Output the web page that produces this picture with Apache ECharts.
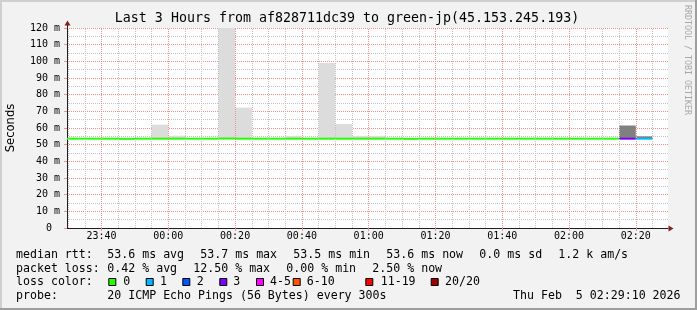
<!DOCTYPE html>
<html><head><meta charset="utf-8">
<script src="https://cdn.jsdelivr.net/npm/echarts@6/dist/echarts.min.js"></script>
<style>html,body{margin:0;padding:0;background:#f2f2f2}#c{width:697px;height:310px}</style>
</head><body><div id="c"></div>
<script>
// ---- data (time in minutes relative to 00:00, Feb 5) ----
const xRange = [-30.35, 149.65];
const xMajorTicks = [-20, 0, 20, 40, 60, 80, 100, 120, 140];
const xTickLabels = ['23:40','00:00','00:20','00:40','01:00','01:20','01:40','02:00','02:20'];
const bucketMinutes = 5;
const medianStart = [-35,-30,-25,-20,-15,-10,-5,0,5,10,15,20,25,30,35,40,45,50,55,60,65,70,75,80,85,90,95,100,105,110,115,120,125,130,135,140];
const medianRtt = [53.6,53.6,53.6,53.6,53.5,53.6,53.6,53.6,53.6,53.6,53.7,53.6,53.6,53.6,53.6,53.6,53.6,53.6,53.6,53.6,53.6,53.5,53.6,53.6,53.6,53.6,53.6,53.6,53.6,53.6,53.6,53.6,53.6,53.6,53.6,53.6];
const lossCount = [0,0,0,0,0,0,0,0,0,0,0,0,0,0,0,0,0,0,0,0,0,0,0,0,0,0,0,0,0,0,0,0,0,0,3,1];
const smokeStart = [-5, 0, 15, 20, 35, 45, 50, 55, 60, 135, 140];
const smokeLow   = [53.5, 53.5, 53.5, 53.5, 53.5, 53.5, 53.5, 53.5, 53.5, 53.5, 53.5];
const smokeHigh  = [62, 55.4, 130, 72.2, 55.3, 99, 62.4, 55.3, 55.3, 61.5, 55];
const smokeShade = ['#dcdcdc','#dcdcdc','#dcdcdc','#dcdcdc','#dcdcdc','#dcdcdc','#dcdcdc','#dcdcdc','#dcdcdc','#808080','#808080'];
const lossColors = ['#26ff00','#00b8ff','#0059ff','#7e00ff','#ff00ff','#ff5500','#ff0000','#a10000'];
const lossLabels = ['0','1','2','3','4-5','6-10','11-19','20/20'];
const titleText = 'Last 3 Hours from af828711dc39 to green-jp(45.153.245.193)';
const statRow1 = ['median rtt:', '53.6 ms avg', '53.7 ms max', '53.5 ms min', '53.6 ms now', '0.0 ms sd', '1.2 k am/s'];
const statRow2 = ['packet loss:', '0.42 % avg', '12.50 % max', '0.00 % min', '2.50 % now'];
const probeRow = ['probe:', '20 ICMP Echo Pings (56 Bytes) every 300s', 'Thu Feb  5 02:29:10 2026'];

// ---- layout ----
const MONO = "'DejaVu Sans Mono', monospace";
const row1X = [16, 107.3, 200.3, 293.3, 386.3, 479.3, 558.3];
const row2X = [16, 107.3, 193.3, 286.3, 372.3];
const probeX = [16, 107.3, 513];
const boxX = [108.3, 145.7, 182.3, 219.3, 256, 292.7, 365.3, 430.7];
const boxTextX = [123.3, 160, 196.7, 233.3, 270, 306.7, 380.7, 445];
const rowY = [254.5, 268.5, 282.3, 296.3];
const GRID_C = '#c4c4c4';
const MGRID_C = '#ee9090';

function lossBin(n){ if(n<=3) return n; if(n<=5) return 4; if(n<=10) return 5; if(n<=19) return 6; return 7; }

const graphics = [];
function txt(x, y, s, size, extra){
  graphics.push(Object.assign({type:'text', x:x, y:y, silent:true,
    style:{text:s, fontFamily:MONO, fontSize:size||11.6, fill:'#000', textAlign:'left', textVerticalAlign:'middle'}}, extra||{}));
}
// borders
graphics.push({type:'rect', shape:{x:0,y:0,width:697,height:2}, style:{fill:'#cfcfcf'}, silent:true});
graphics.push({type:'rect', shape:{x:0,y:0,width:2,height:310}, style:{fill:'#cfcfcf'}, silent:true});
graphics.push({type:'rect', shape:{x:0,y:308,width:697,height:2}, style:{fill:'#9e9e9e'}, silent:true});
graphics.push({type:'rect', shape:{x:695,y:0,width:2,height:310}, style:{fill:'#9e9e9e'}, silent:true});
// title
graphics.push({type:'text', x:347, y:18.5, silent:true, style:{text:titleText, fontFamily:MONO, fontSize:13.3, fill:'#000', textAlign:'center', textVerticalAlign:'middle'}});
// y name
graphics.push({type:'text', x:11, y:128, rotation:Math.PI/2, silent:true, style:{text:'Seconds', fontFamily:"'DejaVu Sans', sans-serif", fontSize:11.6, fill:'#000', textAlign:'center', textVerticalAlign:'middle'}});
// watermark
graphics.push({type:'text', x:687, y:60, rotation:-Math.PI/2, silent:true, style:{text:'RRDTOOL / TOBI OETIKER', fontFamily:MONO, fontSize:8.3, fill:'#a8a8a8', textAlign:'center', textVerticalAlign:'middle'}});
// arrows
graphics.push({type:'line', shape:{x1:67.5,y1:28,x2:67.5,y2:24}, style:{stroke:'#1f1f1f', lineWidth:1}, silent:true});
graphics.push({type:'polygon', shape:{points:[[64.5,25.5],[70.5,25.5],[67.5,20.5]]}, style:{fill:'#801f1f'}, silent:true, z:10});
graphics.push({type:'polygon', shape:{points:[[668.5,225.5],[668.5,231.5],[673.5,228.5]]}, style:{fill:'#801f1f'}, silent:true, z:10});
// legend rows
statRow1.forEach((s,i)=>txt(row1X[i], rowY[0], s));
statRow2.forEach((s,i)=>txt(row2X[i], rowY[1], s));
txt(16, rowY[2], 'loss color:');
lossLabels.forEach((s,i)=>{
  graphics.push({type:'rect', shape:{x:boxX[i]+0.5, y:278.5, width:7, height:7}, style:{fill:lossColors[i], stroke:'#000', lineWidth:1}, silent:true});
  txt(boxTextX[i], rowY[2], s);
});
probeRow.forEach((s,i)=>txt(probeX[i], rowY[3], s));

// vertical grid lines (markLine)
const vMinor = [], vMajor = [];
for (let m = -30; m <= 145; m += 5) {
  if (xMajorTicks.indexOf(m) >= 0) vMajor.push({xAxis:m}); else vMinor.push({xAxis:m});
}

const chart = echarts.init(document.getElementById('c'), null, {renderer:'canvas'});
chart.setOption({
  animation:false,
  backgroundColor:'#f2f2f2',
  grid:{left:67, top:28, right:29, bottom:82, show:true, backgroundColor:'#ffffff', borderWidth:0},
  graphic: graphics,
  xAxis:{
    type:'value', min:xRange[0], max:xRange[1],
    axisLine:{show:true, onZero:false, lineStyle:{color:'#1f1f1f', width:1}},
    axisTick:{show:true, customValues:xMajorTicks, length:3, lineStyle:{color:MGRID_C}},
    axisLabel:{customValues:xMajorTicks, margin:3, fontFamily:MONO, fontSize:10, color:'#000',
      formatter:(v)=>{ const i = xMajorTicks.indexOf(Math.round(v)); return i>=0 ? xTickLabels[i] : ''; }},
    splitLine:{show:false}
  },
  yAxis:{
    type:'value', min:0, max:120, interval:10,
    axisLine:{show:true, onZero:false, lineStyle:{color:'#1f1f1f', width:1}},
    axisTick:{show:true, length:3, lineStyle:{color:MGRID_C}},
    axisLabel:{margin:7, fontFamily:MONO, fontSize:10, color:'#000',
      formatter:(v)=> v===0 ? '{z|0}' : v+' m',
      rich:{z:{fontFamily:MONO, fontSize:10, color:'#000', padding:[0,8,0,0]}}},
    splitLine:{show:true, lineStyle:{color:MGRID_C, type:[1,1], width:1}},
    minorTick:{show:false, splitNumber:2},
    minorSplitLine:{show:true, lineStyle:{color:GRID_C, type:[1,1], width:1}}
  },
  series:[
    {type:'line', data:[], z:1, silent:true,
      markLine:{silent:true, symbol:'none', label:{show:false}, animation:false,
        lineStyle:{color:GRID_C, type:[1,1], width:1}, data:vMinor}},
    {type:'line', data:[], z:1, silent:true,
      markLine:{silent:true, symbol:'none', label:{show:false}, animation:false,
        lineStyle:{color:MGRID_C, type:[1,1], width:1}, data:vMajor}},
    {type:'custom', z:2, silent:true, clip:true,
      data: smokeStart.map((s,i)=>[s, smokeLow[i], smokeHigh[i], i]),
      encode:{x:0, y:[1,2]},
      renderItem:(params, api)=>{
        const i = api.value(3);
        const a = api.coord([api.value(0), api.value(1)]);
        const b = api.coord([api.value(0)+bucketMinutes, api.value(2)]);
        const cs = params.coordSys;
        const r = echarts.graphic.clipRectByRect({x:a[0], y:b[1], width:b[0]-a[0], height:a[1]-b[1]}, {x:cs.x, y:cs.y, width:cs.width, height:cs.height});
        return r ? {type:'rect', shape:r, style:{fill:smokeShade[i]}} : null;
      }},
    {type:'custom', z:3, silent:true, clip:true,
      data: medianStart.map((s,i)=>[s, medianRtt[i], lossCount[i]]),
      encode:{x:0, y:1},
      renderItem:(params, api)=>{
        const a = api.coord([api.value(0), api.value(1)]);
        const b = api.coord([api.value(0)+bucketMinutes, api.value(1)]);
        const cs = params.coordSys;
        const r = echarts.graphic.clipRectByRect({x:a[0], y:a[1]-1, width:b[0]-a[0], height:2}, {x:cs.x, y:cs.y, width:cs.width, height:cs.height});
        return r ? {type:'rect', shape:r, style:{fill:lossColors[lossBin(api.value(2))]}} : null;
      }}
  ]
});
</script></body></html>
